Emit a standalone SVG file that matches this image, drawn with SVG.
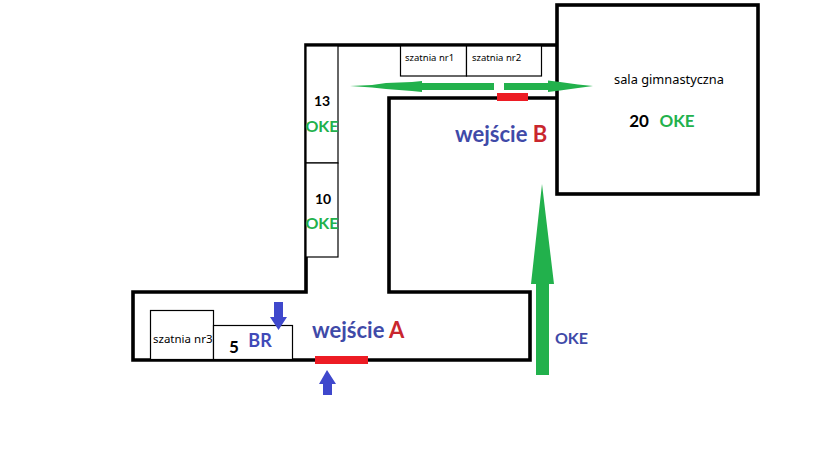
<svg xmlns="http://www.w3.org/2000/svg" width="819" height="460" viewBox="0 0 819 460">
<style>
text{font-family:"Lato","Open Sans","Liberation Sans",sans-serif}
.wall{fill:none;stroke:#000;stroke-width:3.600;stroke-linejoin:miter}
.thin{fill:#fff;stroke:#000;stroke-width:1.200}
.lbl{font-family:"Noto Sans","Liberation Sans",sans-serif;font-size:9.500px;fill:#000}
.num{font-weight:700;font-size:14px;fill:#000;text-anchor:middle}
.oke{font-weight:700;font-size:16px;fill:#22b14c;text-anchor:middle}
.entry{font-weight:700;font-size:22px;fill:#3f4aa8}
.entry tspan{fill:#c9262e}
.green{fill:#22b14c}.blue{fill:#3f48cc}.red{fill:#ed1c24}
</style>
<rect width="819" height="460" fill="#fff"/>
<g id="building">
<path class="wall" d="M557 45H306V292H133V360H530V292H389V98H557"/>
</g>
<g id="gym">
<rect class="wall" x="557" y="5" width="201" height="189"/>
<text x="669" y="84" text-anchor="middle" style="font-family:'Noto Sans','Liberation Sans',sans-serif;font-size:12.800px">sala gimnastyczna</text>
<text class="num" x="639" y="127" style="font-size:17px">20</text>
<text class="oke" x="677" y="127" style="font-size:17px">OKE</text>
</g>
<g id="room13">
<rect class="thin" x="306" y="46" width="32" height="117"/>
<text class="num" x="322" y="106">13</text>
<text class="oke" x="322" y="132">OKE</text>
</g>
<g id="room10">
<rect class="thin" x="306" y="163" width="32" height="94"/>
<text class="num" x="323" y="204">10</text>
<text class="oke" x="322" y="229">OKE</text>
</g>
<g id="szatnia1">
<rect class="thin" x="400.500" y="46" width="66" height="30"/>
<text class="lbl" x="405" y="61">szatnia nr1</text>
</g>
<g id="szatnia2">
<rect class="thin" x="466.500" y="46" width="75" height="30"/>
<text class="lbl" x="472" y="61">szatnia nr2</text>
</g>
<g id="szatnia3">
<rect class="thin" x="150.500" y="310.500" width="63" height="49"/>
<text class="lbl" x="153" y="343" style="font-size:11.500px">szatnia nr3</text>
</g>
<g id="room5">
<rect class="thin" x="213.500" y="325.500" width="79" height="34"/>
<text class="num" x="234" y="353" style="font-size:17px">5</text>
<text x="260" y="347" text-anchor="middle" style="font-weight:700;font-size:18px;fill:#3f4ab8">BR</text>
</g>
<g id="entranceA">
<rect class="red" x="315" y="356" width="53" height="8"/>
<text class="entry" x="312" y="338">wejście <tspan>A</tspan></text>
</g>
<g id="entranceB">
<rect class="red" x="497" y="93" width="31" height="8"/>
<text class="entry" x="455" y="142">wejście <tspan>B</tspan></text>
</g>
<g id="okeLabel">
<text x="571.500" y="344" text-anchor="middle" style="font-weight:700;font-size:16px;fill:#3f4aa8">OKE</text>
</g>
<g id="connectors">
<polygon class="green" points="350,86 372,85 386,83 412,82 422,81 422,83 494,83 494,90 422,90 422,92 412,91 386,89 372,87.500"/>
<polygon class="green" points="593,86 578,84.500 560,82 548,80.500 548,83 504,83 504,90 548,90 548,92 560,90.500 578,88"/>
<polygon class="green" points="542,184 554,284 549,284 549,375 536,375 536,284 531,284"/>
<polygon class="blue" points="274,302 283,302 283,317 287,317 278.500,330 270,317 274,317"/>
<polygon class="blue" points="327,370 336,384 332,384 332,395 323,395 323,384 319,384"/>
</g>
</svg>
